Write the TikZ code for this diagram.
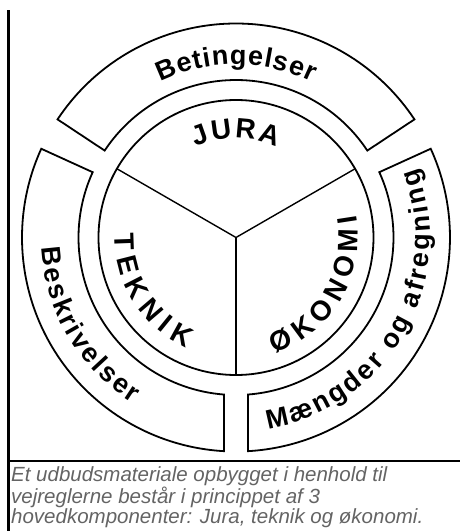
\documentclass[tikz,border=0pt]{standalone}
\usepackage{fontspec}
\setmainfont{Liberation Sans}
\usetikzlibrary{decorations.text}
\definecolor{capgray}{RGB}{100,100,100}
\newcommand{\ringfont}{\fontsize{27}{27}\selectfont\bfseries}
\newcommand{\corefont}{\fontsize{28}{28}\selectfont\bfseries}
\tikzset{
  rim/.style={line width=1.8pt},
  spoke/.style={line width=1.4pt},
  ringtext/.style={decorate, decoration={text along path, text align={fit to path}, text={#1}}}
}

\begin{document}
\begin{tikzpicture}[x=1pt, y=1pt]
  \useasboundingbox (-236,-293.5) rectangle (224,237.5);
  % frame
  \draw[line width=2.5pt] (-227.5,227.5) -- (-227.5,-293.5);
  \draw[line width=2.5pt] (-228.7,-223.7) -- (224,-223.7);
  % inner disc
  \draw[rim] (0,0) circle[radius=137.5];
  \draw[spoke] (150:137.5) -- (0,0) -- (30:137.5);
  \draw[spoke] (0,0) -- (270:137.5);
  % outer ring
  \draw[rim] (146.5:214) arc[start angle=146.5, end angle=33.5, radius=214] -- (33.5:157.5) arc[start angle=33.5, end angle=146.5, radius=157.5] -- cycle;
  \draw[rim] (155.5:214) arc[start angle=155.5, end angle=266.8, radius=214] -- (-12,-157.04) arc[start angle=265.63, end angle=155.5, radius=157.5] -- cycle;
  \draw[rim] (-86.8:214) arc[start angle=-86.8, end angle=24.5, radius=214] -- (24.5:157.5) arc[start angle=24.5, end angle=-85.63, radius=157.5] -- cycle;
  % labels
  \path[ringtext={|\ringfont|Betingelser}] (116:173) arc[start angle=116, end angle=64, radius=173];
  \path[ringtext={|\ringfont|Beskrivelser}] (183:195) arc[start angle=183, end angle=238, radius=195];
  \path[ringtext={|\ringfont|Mængder og afregning}] (279.5:194) arc[start angle=279.5, end angle=381, radius=194];
  \path[ringtext={|\corefont|JURA}] (114:99) arc[start angle=114, end angle=66, radius=99];
  \path[ringtext={|\corefont|TEKNIK}] (178:121) arc[start angle=178, end angle=246, radius=121];
  \path[ringtext={|\corefont|ØKONOMI}] (288.5:122) arc[start angle=288.5, end angle=370.5, radius=122];
  % caption
  \node[anchor=north west, align=left, inner sep=0pt, text=capgray, font=\itshape\fontsize{20.5}{17.5}\selectfont] (caption) at (-225,-229) {Et udbudsmateriale opbygget i henhold til\\vejreglerne består i princippet af 3\\hovedkomponenter: Jura, teknik og økonomi.};
\end{tikzpicture}
\end{document}
